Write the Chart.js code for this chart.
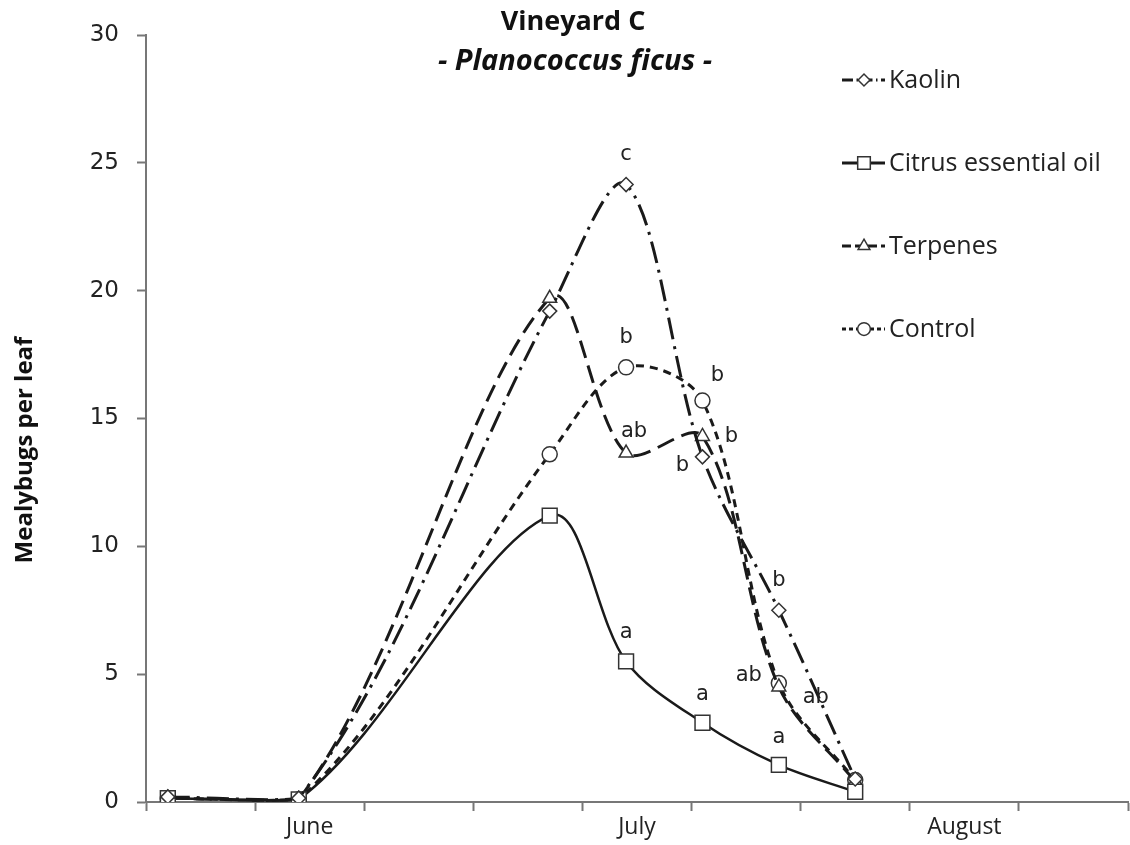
<!DOCTYPE html>
<html>
<head>
<meta charset="utf-8">
<script src="https://cdn.jsdelivr.net/npm/chart.js@4/dist/chart.umd.min.js"></script>
<style>
  html, body { margin: 0; padding: 0; background: #fff; }
  #wrap { width: 1130px; height: 845px; }
</style>
</head>
<body>
<div id="wrap"><canvas id="grafico" width="1130" height="845"></canvas></div>
<script>
// días desde el inicio del eje (cada marca = 10 días)
let dias = [2, 14, 37, 44, 51, 58, 65];

// mealybugs por hoja
let kaolin  = [0.2, 0.15, 19.2, 24.15, 13.5, 7.5, 0.9];
let citrus  = [0.15, 0.1, 11.2, 5.5, 3.1, 1.45, 0.4];
let terpenos = [0.15, 0.1, 19.7, 13.65, 14.3, 4.5, 0.8];
let control = [0.15, 0.1, 13.6, 17.0, 15.7, 4.65, 0.86];

// letras de significancia
let kaolinSig  = [null, null, null, 'c', 'b', 'b', null];
let citrusSig  = [null, null, null, 'a', 'a', 'a', null];
let terpenosSig = [null, null, null, 'ab', 'b', 'ab', null];
let controlSig = [null, null, null, 'b', 'b', 'ab', null];

let meses = {15: 'June', 45: 'July', 75: 'August'};
let ticksY = [0, 5, 10, 15, 20, 25, 30];

function puntos(vals) {
    return dias.map((d, i) => ({x: d, y: vals[i]}));
}

let negro = '#1a1a1a';

let series = [
    {label: 'Kaolin', data: puntos(kaolin), sig: kaolinSig, borderDash: [22, 7, 3, 7], borderWidth: 3,
     pointStyle: 'rectRot', pointRadius: 7,
     off: [null, null, null, [0, -30], [-20, 9], [0, -30], null]},
    {label: 'Citrus essential oil', data: puntos(citrus), sig: citrusSig, borderDash: [], borderWidth: 2.5,
     pointStyle: 'rect', pointRadius: 10.5,
     off: [null, null, null, [0, -29], [0, -28], [0, -27], null]},
    {label: 'Terpenes', data: puntos(terpenos), sig: terpenosSig, borderDash: [18, 8], borderWidth: 3,
     pointStyle: 'triangle', pointRadius: 8,
     off: [null, null, null, [8, -21], [29, 0], [37, 11], null]},
    {label: 'Control', data: puntos(control), sig: controlSig, borderDash: [8, 6], borderWidth: 3,
     pointStyle: 'circle', pointRadius: 7.5,
     off: [null, null, null, [0, -30], [15, -25], [-30, -8], null]}
];

series.forEach(s => {
    s.borderColor = negro;
    s.backgroundColor = '#fff';
    s.pointBackgroundColor = '#fff';
    s.pointBorderColor = '#333';
    s.pointBorderWidth = 1.5;
    s.tension = 0.33;
    s.fill = false;
});

// títulos, leyenda y letras dibujadas a mano
let extras = {
    id: 'extras',
    afterDatasetsDraw(chart) {
        let ctx = chart.ctx;
        let xs = chart.scales.x, ys = chart.scales.y;
        ctx.save();
        ctx.fillStyle = '#222';
        ctx.font = '21px "DejaVu Sans"';
        ctx.textAlign = 'center';
        ctx.textBaseline = 'middle';
        series.forEach(s => {
            s.sig.forEach((t, i) => {
                if (!t) return;
                let px = xs.getPixelForValue(s.data[i].x) + s.off[i][0];
                let py = ys.getPixelForValue(s.data[i].y) + s.off[i][1];
                ctx.fillText(t, px, py);
            });
        });
        ctx.restore();
    },
    afterDraw(chart) {
        let ctx = chart.ctx;
        ctx.save();
        ctx.fillStyle = '#111';
        ctx.textAlign = 'center';
        ctx.textBaseline = 'middle';
        ctx.font = 'bold 27px "Open Sans"';
        ctx.fillText('Vineyard C', 573, 22);
        ctx.font = 'italic bold 29px "Open Sans"';
        ctx.fillText('- Planococcus ficus -', 575, 62);

        // eje Y
        ctx.save();
        ctx.translate(25, 450);
        ctx.rotate(-Math.PI / 2);
        ctx.font = 'bold 24px "Open Sans"';
        ctx.fillText('Mealybugs per leaf', 0, 0);
        ctx.restore();

        // leyenda
        ctx.textAlign = 'left';
        ctx.font = '25px "Open Sans"';
        series.forEach((s, i) => {
            let y = 80 + i * 83;
            ctx.save();
            ctx.strokeStyle = negro;
            ctx.lineWidth = 3;
            ctx.setLineDash(s.borderDash.map(v => v * 0.5));
            ctx.beginPath();
            ctx.moveTo(842, y);
            ctx.lineTo(885, y);
            ctx.stroke();
            ctx.setLineDash([]);
            ctx.fillStyle = '#fff';
            ctx.strokeStyle = '#333';
            ctx.lineWidth = 1.5;
            Chart.helpers.drawPoint(ctx, {pointStyle: s.pointStyle, radius: s.pointRadius * 0.85, rotation: 0, borderWidth: 1.5}, 864, y);
            ctx.restore();
            ctx.fillStyle = '#222';
            ctx.fillText(s.label, 889, y + 1);
        });
        ctx.restore();
    }
};

let config = {
    type: 'line',
    data: {datasets: series},
    options: {
        responsive: false,
        animation: false,
        layout: {autoPadding: false, padding: {top: 35, right: 2, left: 0, bottom: 0}},
        plugins: {legend: {display: false}, tooltip: {enabled: false}},
        scales: {
            x: {
                type: 'linear',
                min: 0, max: 90,
                afterFit(scale) {
                    scale.height = 43;
                    scale.paddingLeft = 0;
                    scale.paddingRight = 0;
                },
                afterBuildTicks(scale) {
                    let t = [];
                    for (let v = 0; v <= 90; v += 5) t.push({value: v});
                    scale.ticks = t;
                },
                ticks: {
                    autoSkip: false, maxRotation: 0, padding: 3,
                    color: '#222', font: {family: 'Open Sans', size: 23},
                    callback: v => meses[v] || ''
                },
                grid: {
                    drawOnChartArea: false, tickLength: 9, tickWidth: 2,
                    tickColor: c => (c.tick && c.tick.value % 10 === 0) ? '#777' : 'rgba(0,0,0,0)'
                },
                border: {color: '#777', width: 2}
            },
            y: {
                min: 0, max: 30,
                afterFit(scale) { scale.width = 146; },
                afterBuildTicks(scale) { scale.ticks = ticksY.map(v => ({value: v})); },
                ticks: {color: '#222', padding: 18, font: {family: 'DejaVu Sans', size: 23}},
                grid: {drawOnChartArea: false, tickLength: 9, tickWidth: 2, tickColor: '#777'},
                border: {color: '#777', width: 2}
            }
        }
    },
    plugins: [extras]
};

new Chart(document.getElementById('grafico').getContext('2d'), config);
</script>
</body>
</html>
